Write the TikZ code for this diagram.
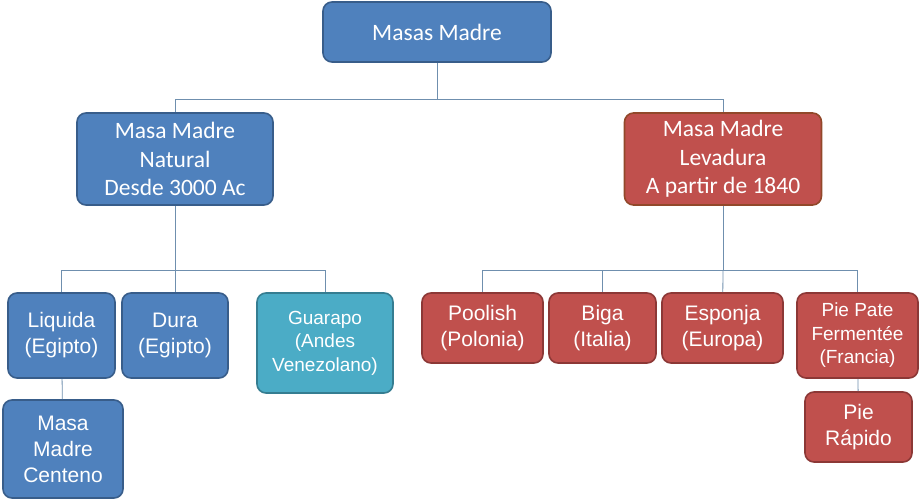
\documentclass[tikz,border=0pt]{standalone}
\usepackage{fontspec}
\setmainfont{Liberation Sans}
\newfontfamily\calfont{Carlito}
\definecolor{bluefill}{HTML}{4F81BD}
\definecolor{blueline}{HTML}{385D8A}
\definecolor{redfill}{HTML}{C0504D}
\definecolor{redline}{HTML}{8C3836}
\definecolor{brownline}{HTML}{92482A}
\definecolor{tealfill}{HTML}{4BACC6}
\definecolor{tealline}{HTML}{357D91}
\definecolor{linkcol}{HTML}{6F8FAE}
\begin{document}
\begin{tikzpicture}[x=1pt, y=-1pt,
    box/.style={rectangle, draw=blueline, fill=bluefill, line width=1.6pt, text=white, align=center, rounded corners=9pt, inner sep=0pt, font=\fontsize{21}{26}\selectfont},
    topbox/.style={box, font=\calfont\fontsize{23.5}{28.5}\selectfont},
    redbox/.style={box, draw=redline, fill=redfill},
    tealbox/.style={box, draw=tealline, fill=tealfill},
    small/.style={font=\fontsize{19}{23.5}\selectfont},
    link/.style={draw=linkcol, line width=0.8pt}
]
\useasboundingbox (0,0) rectangle (920,500);

% Root
\node[topbox, minimum width=228pt, minimum height=60pt] (root) at (437,32) {Masas Madre};

% First level
\node[topbox, minimum width=196pt, minimum height=92pt] (natural) at (175,159) {Masa Madre\\Natural\\Desde 3000 Ac};
\node[topbox, draw=brownline, fill=redfill, minimum width=197pt, minimum height=92pt] (levadura) at (723,159) {Masa Madre\\Levadura\\A partir de 1840};

% Natural branch
\node[box, minimum width=107pt, minimum height=85pt] (liquida) at (61.5,335.5) {Liquida\\(Egipto)};
\node[box, minimum width=106pt, minimum height=85pt] (dura) at (175,335.5) {Dura\\(Egipto)};
\node[tealbox, small, minimum width=136pt, minimum height=100pt] (guarapo) at (325,343) {Guarapo\\(Andes\\Venezolano)};
\node[box, minimum width=120pt, minimum height=98pt] (centeno) at (63,449) {Masa\\Madre\\Centeno};

% Levadura branch
\node[redbox, minimum width=121pt, minimum height=70pt] (poolish) at (482.5,328) {Poolish\\(Polonia)};
\node[redbox, minimum width=107pt, minimum height=70pt] (biga) at (602.5,328) {Biga\\(Italia)};
\node[redbox, minimum width=121pt, minimum height=70pt] (esponja) at (722.5,328) {Esponja\\(Europa)};
\node[redbox, small, minimum width=121pt, minimum height=85pt] (piepate) at (857.5,335.5) {Pie Pate\\Fermentée\\(Francia)};
\node[redbox, minimum width=107pt, minimum height=70pt] (pierapido) at (858.5,427) {Pie\\Rápido};

% Bus points
\coordinate (bus0) at (437,99);
\coordinate (bus1) at (175,270);
\coordinate (bus2) at (723,270);

% Connectors
\draw[link] (root) -- (bus0);
\draw[link] (bus0) -| (natural);
\draw[link] (bus0) -| (levadura);
\draw[link] (natural) -- (bus1);
\draw[link] (bus1) -| (liquida);
\draw[link] (bus1) -- (dura);
\draw[link] (bus1) -| (guarapo);
\draw[link] (liquida) -- (centeno);
\draw[link] (levadura) -- (bus2);
\draw[link] (bus2) -| (poolish);
\draw[link] (bus2) -| (biga);
\draw[link] (bus2) -- (esponja);
\draw[link] (bus2) -| (piepate);
\draw[link] (piepate) -- (pierapido);

\end{tikzpicture}
\end{document}
